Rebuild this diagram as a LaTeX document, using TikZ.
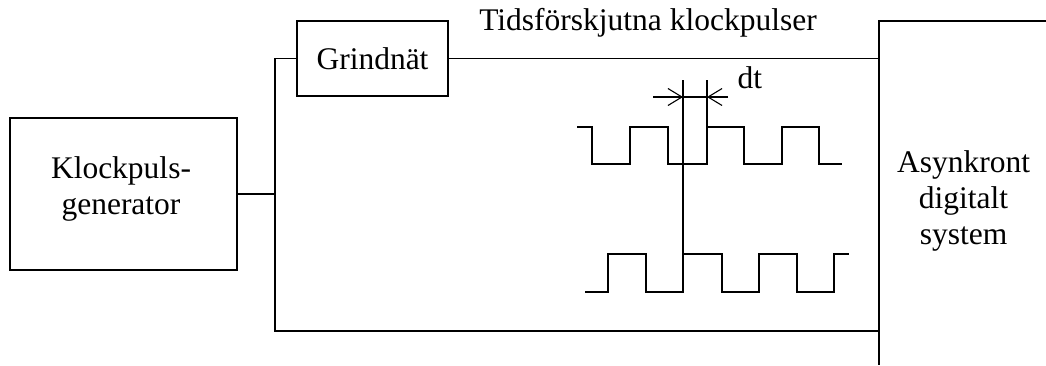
\documentclass[tikz,border=0pt]{standalone}
\usepackage{fontspec}
\setmainfont{Liberation Serif}
\usetikzlibrary{arrows.meta}
\begin{document}
\begin{tikzpicture}[x=1pt,y=-1pt, line width=1.1pt,
  every node/.style={font=\fontsize{31.5}{36}\selectfont, inner sep=0pt},
  blk/.style={draw, inner sep=0pt},
  wave/.style={draw, line join=miter},
  barb/.style={-{Straight Barb[length=14pt,width=17pt,line width=1.1pt]}}]
\useasboundingbox (0,0) rectangle (1046,365);
% blocks
\node[blk, minimum width=227pt, minimum height=152pt] (kp) at (123.5,194) {};
\node[align=center] (kpt) at (121,188.7) {Klockpuls-\\generator};
\node[blk, minimum width=151pt, minimum height=75pt] (gn) at (372.5,58.5) {Grindnät};
\coordinate (asnw) at (879,21);
\coordinate (assw) at (879,365);
\coordinate (asne) at (1046,21);
\draw (asne) -- (asnw) -- (assw);
\node[align=center] (ast) at (963.5,200.7) {Asynkront\\digitalt\\system};
% connectors
\coordinate (j0) at (275,58.5);
\coordinate (j1) at (275,194);
\coordinate (j2) at (275,331);
\coordinate (in1) at (879,58.5);
\coordinate (in2) at (879,331);
\draw (kp.east) -- (j1);
\draw (gn.west) -- (j0) -- (j2) -- (in2);
\draw (gn.east) -- (in1);
\node[anchor=base] (title) at (648,30) {Tidsförskjutna klockpulser};
% waveforms
\draw[wave] (577,127) -- (592,127) -- (592,164) -- (630,164) -- (630,127) -- (668,127) -- (668,164) -- (707,164) -- (707,127) -- (744,127) -- (744,164) -- (782,164) -- (782,127) -- (819,127) -- (819,164) -- (842,164);
\draw[wave] (585,292) -- (608,292) -- (608,254) -- (646,254) -- (646,292) -- (683,292) -- (683,254) -- (722,254) -- (722,292) -- (759,292) -- (759,254) -- (797,254) -- (797,292) -- (834,292) -- (834,254) -- (849,254);
% dt marks
\coordinate (m1t) at (683,80);
\coordinate (m1b) at (683,254);
\coordinate (m2t) at (707,80);
\coordinate (m2b) at (707,127);
\draw (m1t) -- (m1b);
\draw (m2t) -- (m2b);
\coordinate (a1s) at (653,97);
\coordinate (a1e) at (683,97);
\coordinate (a2s) at (728,97);
\coordinate (a2e) at (707,97);
\draw (a1e) -- (a2e);
\draw[barb] (a1s) -- (a1e);
\draw[barb] (a2s) -- (a2e);
\node[anchor=base west] (dt) at (737,88) {dt};
\end{tikzpicture}
\end{document}
